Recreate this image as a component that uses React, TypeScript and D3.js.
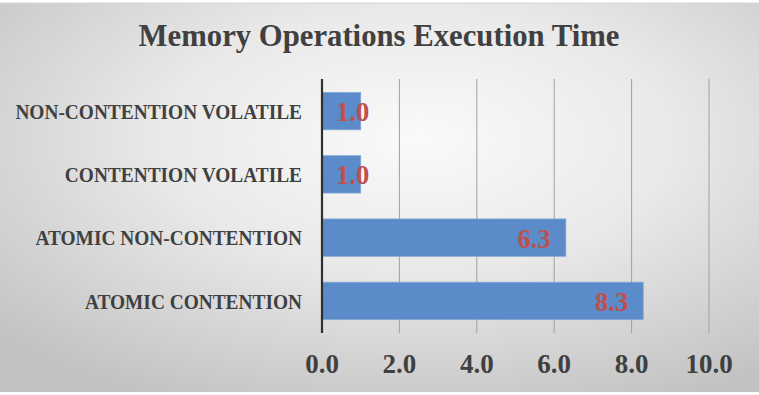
import React from 'react';
import * as d3 from 'd3';

const categories = ['NON-CONTENTION VOLATILE', 'CONTENTION VOLATILE', 'ATOMIC NON-CONTENTION', 'ATOMIC CONTENTION'];
const execTimes = [1.0, 1.0, 6.3, 8.3];
const xTicks = [0, 2, 4, 6, 8, 10];

const W = 759;
const H = 395;
const FONT = '"Liberation Serif", "DejaVu Serif", serif';
const TEXT = '#404040';

const App: React.FC = () => {
  const x = d3.scaleLinear().domain([0, 10]).range([322, 709]);
  const y = d3.scaleBand<string>().domain(categories).range([79.5, 332.5]).paddingInner(0.41).paddingOuter(0.205);

  return (
    <svg width={W} height={H} style={{ position: 'absolute', left: 0, top: 0, display: 'block' }}>
      <defs>
        <radialGradient id="bg" cx="0.55" cy="0.35" r="0.75">
          <stop offset="0" stopColor="#fafafa" />
          <stop offset="0.45" stopColor="#e9e9e9" />
          <stop offset="1" stopColor="#c2c2c2" />
        </radialGradient>
      </defs>
      <rect x={0} y={0} width={W} height={H} fill="#ffffff" />
      <rect x={0} y={3} width={W} height={389} fill="url(#bg)" />
      <line x1={0} x2={W} y1={3} y2={3} stroke="#d6d6d6" />

      <text
        transform="translate(379,46) scale(0.96,1)"
        textAnchor="middle"
        fontFamily={FONT}
        fontWeight="bold"
        fontSize={32}
        fill={TEXT}
      >
        Memory Operations Execution Time
      </text>

      {/* vertical gridlines, running a little past the plot as ticks */}
      {xTicks.slice(1).map((t) => (
        <line key={t} x1={x(t)} x2={x(t)} y1={79} y2={333} stroke="#a0a0a0" strokeWidth={1} />
      ))}

      {categories.map((c, i) => {
        const v = execTimes[i];
        const barEnd = x(v);
        const label = v.toFixed(1);
        const fits = barEnd - x(0) > 60;
        const cy = y(c)! + y.bandwidth() / 2;
        return (
          <g key={c}>
            <rect
              x={x(0)}
              y={y(c)!}
              width={barEnd - x(0)}
              height={y.bandwidth()}
              fill="#5b8bc8"
              stroke="#7ea6d8"
              strokeWidth={0.8}
            />
            <text
              transform={`translate(${fits ? barEnd - 15 : x(0) + 14},${cy}) scale(0.95,1)`}
              dy="0.36em"
              textAnchor={fits ? 'end' : 'start'}
              fontFamily={FONT}
              fontWeight="bold"
              fontSize={28}
              fill="#c0504d"
            >
              {label}
            </text>
            <text
              transform={`translate(302,${cy}) scale(0.88,1)`}
              dy="0.35em"
              textAnchor="end"
              fontFamily={FONT}
              fontWeight="bold"
              fontSize={22}
              fill={TEXT}
            >
              {c}
            </text>
          </g>
        );
      })}

      <line x1={x(0)} x2={x(0)} y1={79} y2={333} stroke="#303030" strokeWidth={2.2} />

      {xTicks.map((t) => (
        <text key={t} x={x(t)} y={373} textAnchor="middle" fontFamily={FONT} fontWeight="bold" fontSize={27} fill={TEXT}>
          {t.toFixed(1)}
        </text>
      ))}
    </svg>
  );
};

export default App;
